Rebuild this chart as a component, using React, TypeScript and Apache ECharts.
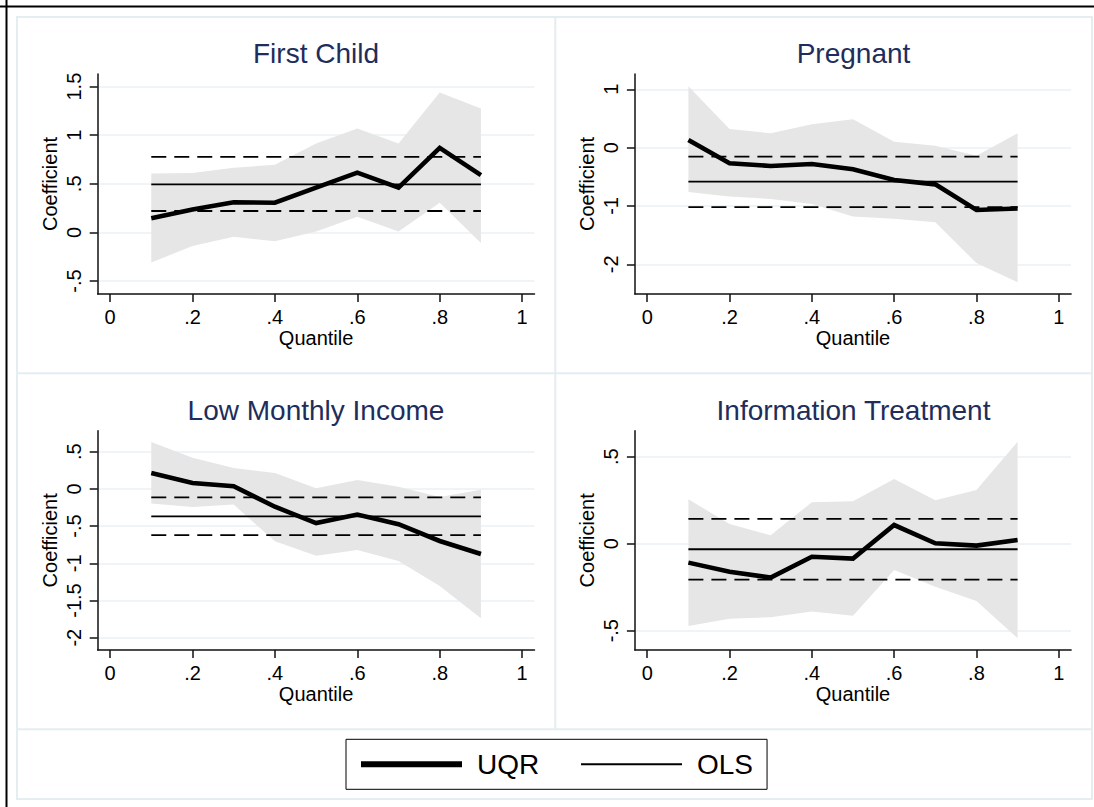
import { useEffect, useRef } from "react";
import * as echarts from "echarts";

// ---------- data ----------
const quantiles = [0.1, 0.2, 0.3, 0.4, 0.5, 0.6, 0.7, 0.8, 0.9];
const panelTitles = ["First Child", "Pregnant", "Low Monthly Income", "Information Treatment"];
const legendNames = ["UQR", "OLS"];

const firstChildUqr = [0.145, 0.235, 0.31, 0.305, 0.46, 0.615, 0.46, 0.87, 0.59];
const firstChildUpper = [0.607, 0.61, 0.665, 0.695, 0.915, 1.07, 0.915, 1.44, 1.275];
const firstChildLower = [-0.31, -0.14, -0.045, -0.09, 0.01, 0.16, 0.01, 0.305, -0.11];
const firstChildOls = [0.495, 0.778, 0.22]; // estimate, upper CI, lower CI

const pregnantUqr = [0.13, -0.27, -0.315, -0.28, -0.37, -0.555, -0.63, -1.07, -1.045];
const pregnantUpper = [1.05, 0.32, 0.245, 0.4, 0.485, 0.1, 0.03, -0.14, 0.245];
const pregnantLower = [-0.76, -0.84, -0.88, -0.965, -1.18, -1.22, -1.28, -1.98, -2.31];
const pregnantOls = [-0.583, -0.155, -1.02];

const incomeUqr = [0.215, 0.08, 0.035, -0.24, -0.46, -0.345, -0.475, -0.7, -0.875];
const incomeUpper = [0.63, 0.42, 0.28, 0.215, 0.01, 0.12, 0.03, -0.11, -0.01];
const incomeLower = [-0.195, -0.245, -0.21, -0.705, -0.9, -0.82, -0.97, -1.305, -1.74];
const incomeOls = [-0.37, -0.115, -0.62];

const infoUqr = [-0.109, -0.161, -0.195, -0.075, -0.086, 0.107, 0.002, -0.011, 0.021];
const infoUpper = [0.255, 0.113, 0.048, 0.238, 0.244, 0.372, 0.249, 0.309, 0.586];
const infoLower = [-0.473, -0.431, -0.423, -0.39, -0.414, -0.151, -0.247, -0.33, -0.544];
const infoOls = [-0.032, 0.142, -0.207];

const xTicks = [0, 0.2, 0.4, 0.6, 0.8, 1];
const firstChildTicks = [-0.5, 0, 0.5, 1, 1.5];
const pregnantTicks = [-2, -1, 0, 1];
const incomeTicks = [-2, -1.5, -1, -0.5, 0, 0.5];
const infoTicks = [-0.5, 0, 0.5];

// ---------- layout ----------
const FONT = "'Liberation Sans', Arial, Helvetica, sans-serif";
const panels = [
  { title: panelTitles[0], uqr: firstChildUqr, upper: firstChildUpper, lower: firstChildLower, ols: firstChildOls, ticks: firstChildTicks,
    grid: { left: 97.7, top: 74, width: 436.8, height: 220 }, yMin: -0.634, yMax: 1.63, titleX: 316, titleY: 53.5 },
  { title: panelTitles[1], uqr: pregnantUqr, upper: pregnantUpper, lower: pregnantLower, ols: pregnantOls, ticks: pregnantTicks,
    grid: { left: 634.9, top: 74, width: 436.2, height: 220 }, yMin: -2.51, yMax: 1.262, titleX: 853.5, titleY: 53.5 },
  { title: panelTitles[2], uqr: incomeUqr, upper: incomeUpper, lower: incomeLower, ols: incomeOls, ticks: incomeTicks,
    grid: { left: 97.7, top: 430.7, width: 436.8, height: 219.3 }, yMin: -2.165, yMax: 0.782, titleX: 316, titleY: 410 },
  { title: panelTitles[3], uqr: infoUqr, upper: infoUpper, lower: infoLower, ols: infoOls, ticks: infoTicks,
    grid: { left: 634.9, top: 430.7, width: 436.2, height: 219.3 }, yMin: -0.611, yMax: 0.649, titleX: 853.5, titleY: 410 },
];

const fmt = (v: number) => String(+Number(v).toFixed(2)).replace(/^(-?)0\./, "$1.");
const FRAME = "#e4edf0";

export default function App() {
  const ref = useRef<HTMLDivElement>(null);

  useEffect(() => {
    if (!ref.current) return;
    const chart = echarts.init(ref.current, undefined, { renderer: "svg" });

    const series: any[] = [];
    panels.forEach((p, i) => {
      series.push({
        type: "custom",
        name: "95% CI",
        xAxisIndex: i,
        yAxisIndex: i,
        silent: true,
        z: 1,
        data: [[0.5, 0]],
        encode: { x: 0, y: 1 },
        renderItem: (_params: any, api: any) => {
          const top = quantiles.map((q, j) => api.coord([q, p.upper[j]]));
          const bottom = quantiles.map((q, j) => api.coord([q, p.lower[j]])).reverse();
          return {
            type: "polygon",
            shape: { points: top.concat(bottom) },
            style: { fill: "#e6e6e6", stroke: "none" },
          };
        },
      });
      [1, 2].forEach((k) => {
        series.push({
          type: "line",
          name: "OLS 95% CI",
          xAxisIndex: i,
          yAxisIndex: i,
          z: 2,
          symbol: "none",
          silent: true,
          data: quantiles.map((q) => [q, p.ols[k]]),
          itemStyle: { color: "#000" },
          lineStyle: { color: "#000", width: 1.8, type: [15, 8] },
        });
      });
      series.push({
        type: "line",
        name: "OLS",
        xAxisIndex: i,
        yAxisIndex: i,
        z: 3,
        symbol: "none",
        silent: true,
        data: quantiles.map((q) => [q, p.ols[0]]),
        itemStyle: { color: "#000" },
        lineStyle: { color: "#000", width: 1.8 },
      });
      series.push({
        type: "line",
        name: "UQR",
        xAxisIndex: i,
        yAxisIndex: i,
        z: 4,
        symbol: "none",
        silent: true,
        data: quantiles.map((q, j) => [q, p.uqr[j]]),
        itemStyle: { color: "#000" },
        lineStyle: { color: "#000", width: 4.6, join: "miter" },
      });
    });

    const line = (x1: number, y1: number, x2: number, y2: number, stroke: string, w: number) => ({
      type: "line",
      silent: true,
      z: -10,
      shape: { x1, y1, x2, y2 },
      style: { stroke, lineWidth: w },
    });

    const option: any = {
      animation: false,
      backgroundColor: "#fff",
      textStyle: { fontFamily: FONT },
      title: panels.map((p) => ({
        text: p.title,
        left: p.titleX,
        top: p.titleY,
        padding: 0,
        textAlign: "center",
        textVerticalAlign: "middle",
        textStyle: { fontSize: 28, fontWeight: "normal", color: "#1e2d5b", fontFamily: FONT },
      })),
      grid: panels.map((p) => ({ ...p.grid, containLabel: false })),
      xAxis: panels.map((_p, i) => ({
        type: "value",
        gridIndex: i,
        min: -0.03,
        max: 1.03,
        name: "Quantile",
        nameLocation: "middle",
        nameGap: 32,
        nameTextStyle: { fontSize: 20, color: "#000", fontFamily: FONT },
        axisLine: { show: true, onZero: false, lineStyle: { color: "#111", width: 1.5 } },
        axisTick: { show: true, length: 8, customValues: xTicks, lineStyle: { color: "#111", width: 1.5 } },
        axisLabel: { customValues: xTicks, formatter: fmt, fontSize: 20, color: "#000", margin: 13, fontFamily: FONT },
        splitLine: { show: false },
      })),
      yAxis: panels.map((p, i) => ({
        type: "value",
        gridIndex: i,
        min: p.yMin,
        max: p.yMax,
        name: "Coefficient",
        nameLocation: "middle",
        nameGap: 38,
        nameTextStyle: { fontSize: 20, color: "#000", fontFamily: FONT },
        axisLine: { show: true, onZero: false, lineStyle: { color: "#111", width: 1.5 } },
        axisTick: { show: true, length: 8, customValues: p.ticks, lineStyle: { color: "#111", width: 1.5 } },
        axisLabel: { customValues: p.ticks, formatter: fmt, rotate: 90, fontSize: 20, color: "#000", margin: 13.5, fontFamily: FONT },
        splitLine: { show: true, lineStyle: { color: "#e8f1f4", width: 1.5 } },
      })),
      legend: {
        data: [
          { name: legendNames[0], lineStyle: { width: 6 } },
          { name: legendNames[1], lineStyle: { width: 2 } },
        ],
        left: 346,
        top: 739.3,
        orient: "horizontal",
        itemWidth: 101,
        itemHeight: 20,
        itemGap: 40.8,
        padding: [11, 14, 11, 12],
        borderColor: "#000",
        borderWidth: 1,
        selectedMode: false,
        itemStyle: { opacity: 0 },
        textStyle: { fontSize: 28, color: "#000", fontFamily: FONT, padding: [0, 0, 0, 10] },
      },
      graphic: [
        line(0, 6.5, 1094, 6.5, "#000", 2),
        line(6.5, 0, 6.5, 807, "#000", 2),
        { type: "rect", silent: true, z: -10, shape: { x: 17, y: 17, width: 1075, height: 782 }, style: { fill: "none", stroke: FRAME, lineWidth: 2 } },
        line(555.3, 17, 555.3, 729.3, FRAME, 2),
        line(17, 373.3, 1092, 373.3, FRAME, 2),
        line(17, 729.3, 1092, 729.3, FRAME, 2),
      ],
      series,
    };

    chart.setOption(option);
    return () => chart.dispose();
  }, []);

  return (
    <div
      ref={ref}
      style={{ position: "absolute", left: 0, top: 0, width: 1094, height: 807, background: "#fff" }}
    />
  );
}
